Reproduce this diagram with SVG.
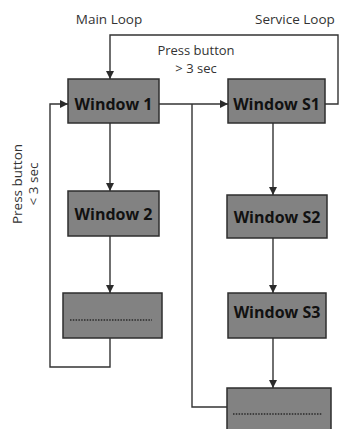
<svg xmlns="http://www.w3.org/2000/svg" width="339" height="429" viewBox="0 0 339 429">
  <defs>
    <marker id="arrow" viewBox="0 0 8 8" refX="8" refY="4" markerWidth="8" markerHeight="8" markerUnits="userSpaceOnUse" orient="auto">
      <path d="M0,0 L8,4 L0,8 Z" fill="#2b2b2b"/>
    </marker>
    <style>
      .box { fill: #828282; stroke: #2e2e2e; stroke-width: 1.5; }
      .lbl { font-family: "Open Sans", "Liberation Sans", sans-serif; font-weight: bold; font-size: 16px; fill: #111; text-anchor: middle; }
      .note { font-family: "Open Sans", "Liberation Sans", sans-serif; font-size: 13.5px; fill: #333; text-anchor: middle; }
      .wire { fill: none; stroke: #333; stroke-width: 1.4; }
      .dots { fill: none; stroke: #2a2a2a; stroke-width: 1.6; stroke-dasharray: 1.5 1.3; }
    </style>
  </defs>
  <rect width="339" height="429" fill="#fff"/>

  <!-- loop titles and transition notes -->
  <text class="note" x="109" y="24">Main Loop</text>
  <text class="note" x="295" y="24">Service Loop</text>
  <text class="note" x="196" y="54.5" style="font-size:13px">Press button</text>
  <text class="note" x="196" y="73" style="font-size:13px">&gt; 3 sec</text>
  <text class="note" transform="translate(21.5,184) rotate(-90)">Press button</text>
  <text class="note" transform="translate(37.5,184) rotate(-90)">&lt; 3 sec</text>

  <!-- connectors -->
  <g id="connectors">
    <path class="wire" d="M325,104 H338 V35 H110 V79" marker-end="url(#arrow)"/>
    <path class="wire" d="M159,104 H228" marker-end="url(#arrow)"/>
    <path class="wire" d="M192,104 V407 H228"/>
    <path class="wire" d="M110,123 V191" marker-end="url(#arrow)"/>
    <path class="wire" d="M110,236 V293" marker-end="url(#arrow)"/>
    <path class="wire" d="M110,338 V367 H50 V104 H68" marker-end="url(#arrow)"/>
    <path class="wire" d="M273,123 V195" marker-end="url(#arrow)"/>
    <path class="wire" d="M273,238 V293" marker-end="url(#arrow)"/>
    <path class="wire" d="M273,338 V388" marker-end="url(#arrow)"/>
  </g>

  <!-- main loop windows -->
  <g id="window1">
    <rect class="box" x="68" y="79" width="91" height="44"/>
    <text class="lbl" x="113.5" y="110">Window 1</text>
  </g>
  <g id="window2">
    <rect class="box" x="68" y="191" width="91" height="45"/>
    <text class="lbl" x="113.5" y="220">Window 2</text>
  </g>
  <g id="window-more">
    <rect class="box" x="63" y="293" width="99" height="45"/>
    <path class="dots" d="M70,320 H152"/>
  </g>

  <!-- service loop windows -->
  <g id="windowS1">
    <rect class="box" x="228" y="79" width="97" height="44"/>
    <text class="lbl" x="276.5" y="110">Window S1</text>
  </g>
  <g id="windowS2">
    <rect class="box" x="227" y="195" width="100" height="43"/>
    <text class="lbl" x="277" y="223">Window S2</text>
  </g>
  <g id="windowS3">
    <rect class="box" x="228" y="293" width="98" height="45"/>
    <text class="lbl" x="277" y="318">Window S3</text>
  </g>
  <g id="windowS-more">
    <rect class="box" x="227" y="388" width="104" height="50"/>
    <path class="dots" d="M233,414 H322"/>
  </g>
</svg>
